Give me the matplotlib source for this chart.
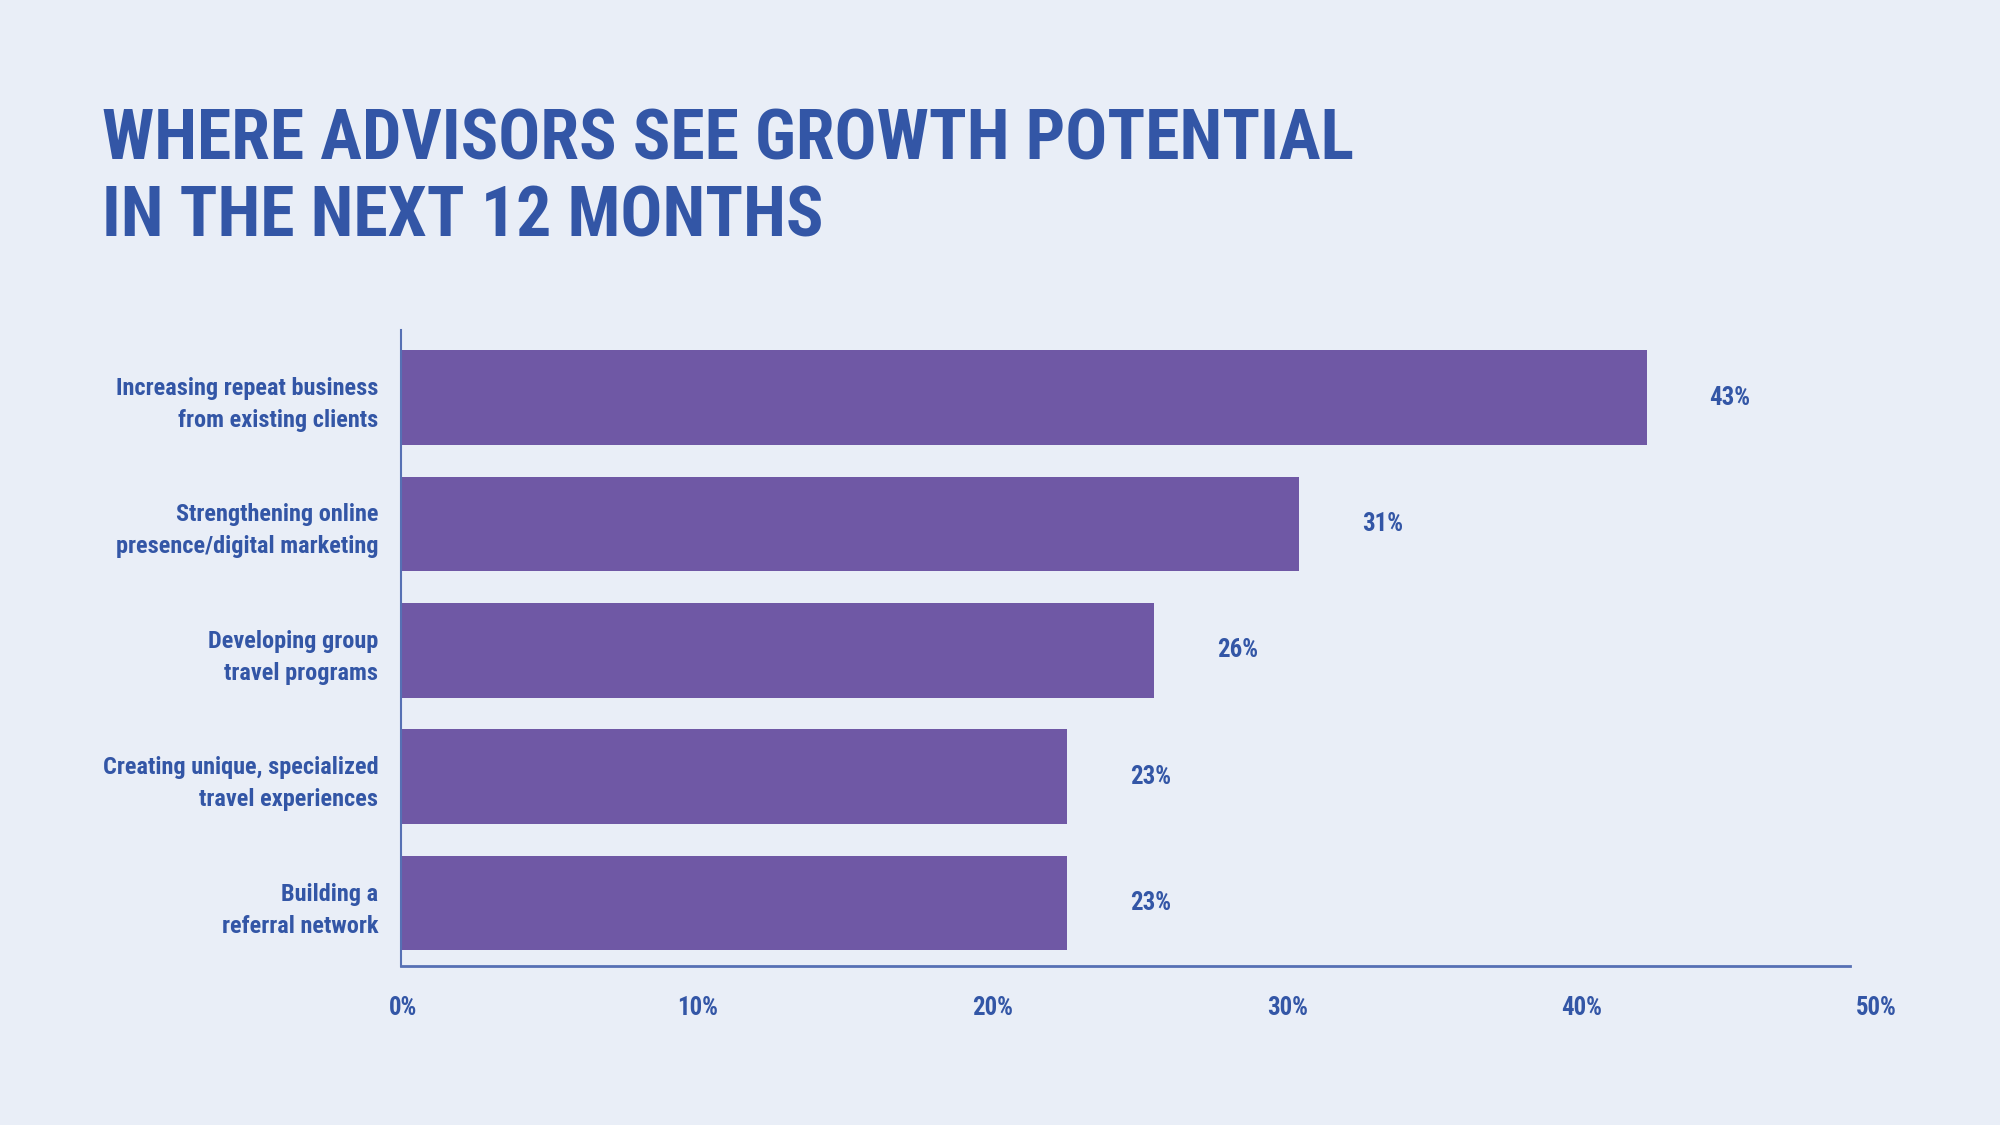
import matplotlib
matplotlib.use('Agg')
import matplotlib.pyplot as plt
from matplotlib import font_manager

# datos
categorias = ['Increasing repeat business\nfrom existing clients',
              'Strengthening online\npresence/digital marketing',
              'Developing group\ntravel programs',
              'Creating unique, specialized\ntravel experiences',
              'Building a\nreferral network']
valores = [43, 31, 26, 23, 23]
ticks = [0, 10, 20, 30, 40, 50]
tick_labels = ['0%', '10%', '20%', '30%', '40%', '50%']
titulo_1 = 'WHERE ADVISORS SEE GROWTH POTENTIAL'
titulo_2 = 'IN THE NEXT 12 MONTHS'

fondo = '#E9EEF7'
azul = '#3356A6'
morado = '#6F58A5'
linea = '#5670B4'

# buscar una fuente condensada en negrita
def buscar_fuente():
    preferidas = ['Roboto Condensed', 'Open Sans Condensed', 'Liberation Sans Narrow',
                  'Noto Sans Condensed', 'DejaVu Sans']
    fuentes = font_manager.fontManager.ttflist
    for nombre in preferidas:
        for f in fuentes:
            angosta = (f.stretch not in ('normal', 500) or 'Condensed' in f.name
                       or 'Narrow' in f.name or 'Condensed' in f.fname or 'Narrow' in f.fname)
            peso = f.weight if isinstance(f.weight, int) else 700 if 'bold' in str(f.weight) else 400
            if f.name.startswith(nombre.split()[0]) and angosta and peso >= 700 and f.style == 'normal':
                return f.fname
    return font_manager.findfont(font_manager.FontProperties(family='DejaVu Sans', weight='bold'))

ruta = buscar_fuente()

def fp(size):
    return font_manager.FontProperties(fname=ruta, size=size)

fig = plt.figure(figsize=(20, 11.25), dpi=100, facecolor=fondo)
ax = fig.add_axes([0.2003, 0.1417, 0.7405, 0.565])
ax.set_facecolor(fondo)
renderer = fig.canvas.get_renderer()

def ajustar(texto, ancho_px, size0=40):
    t = fig.text(0, 0, texto, fontproperties=fp(size0))
    w = t.get_window_extent(renderer).width
    t.remove()
    return size0 * ancho_px / w

size_titulo = ajustar(titulo_1, 1250)
size_cat = min(ajustar('presence/digital marketing', 262), 20)
size_num = min(ajustar('43%', 41), 20)

y = list(range(len(categorias)))
ax.barh(y, valores, height=0.75, color=morado)
ax.set_xlim(0, 51.1)
ax.set_ylim(4.495, -0.535)

for yi, v in zip(y, valores):
    ax.annotate(f'{v}%', xy=(v, yi), xytext=(60, 0), textcoords='offset points',
                ha='center', va='center', fontproperties=fp(size_num), color=azul)

ax.set_yticks(y)
ax.set_yticklabels(categorias, fontproperties=fp(size_cat), color=azul, linespacing=1.5)
ax.tick_params(axis='y', length=0, pad=16)

# etiquetas del eje x un poco desplazadas como en el original
ax.set_xticks([])
sec = ax.secondary_xaxis('bottom', functions=(lambda x: (x - 0.088) / 1.0167,
                                              lambda x: x * 1.0167 + 0.088))
sec.set_xticks(ticks)
sec.set_xticklabels(tick_labels, fontproperties=fp(size_num), color=azul)
sec.tick_params(length=0, pad=22)
sec.spines['bottom'].set_visible(False)

for s in ['top', 'right']:
    ax.spines[s].set_visible(False)
ax.spines['left'].set_color(linea)
ax.spines['left'].set_linewidth(1.5)
ax.spines['bottom'].set_color(linea)
ax.spines['bottom'].set_linewidth(2)
ax.spines['bottom'].set_bounds(0, 50)

fig.text(0.051, 1 - 159 / 1125, titulo_1, fontproperties=fp(size_titulo), color=azul, va='baseline')
fig.text(0.051, 1 - 236 / 1125, titulo_2, fontproperties=fp(size_titulo), color=azul, va='baseline')

fig.savefig('out.png', dpi=100, facecolor=fondo)
